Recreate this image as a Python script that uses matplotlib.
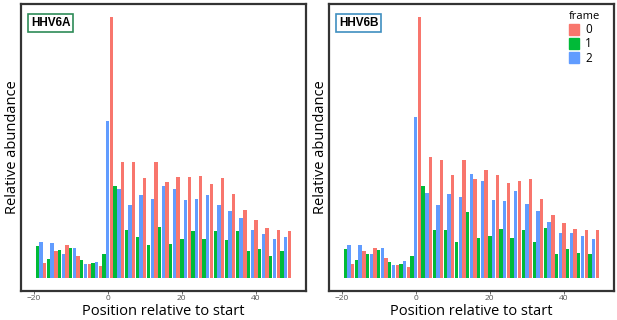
import numpy as np
import matplotlib
matplotlib.use('Agg')
import matplotlib.pyplot as plt
from matplotlib.patches import Patch

# positions relative to start codon
positions = np.arange(-19, 50)

# relative abundance per position, HHV6A
hhv6a = [0.121, 0.138, 0.057, 0.074, 0.135, 0.102, 0.107, 0.093, 0.125, 0.114,
         0.114, 0.083, 0.069, 0.055, 0.054, 0.057, 0.063, 0.045, 0.093,
         0.602, 1.000, 0.351, 0.340, 0.443, 0.185, 0.278, 0.446, 0.158, 0.317,
         0.382, 0.126, 0.303, 0.444, 0.195, 0.351, 0.367, 0.129, 0.342, 0.386,
         0.151, 0.300, 0.388, 0.179, 0.304, 0.390, 0.149, 0.319, 0.360, 0.181,
         0.281, 0.384, 0.144, 0.258, 0.322, 0.179, 0.229, 0.262, 0.103, 0.183,
         0.221, 0.112, 0.170, 0.190, 0.086, 0.148, 0.185, 0.103, 0.158, 0.179]

# relative abundance per position, HHV6B
hhv6b = [0.112, 0.125, 0.055, 0.068, 0.125, 0.102, 0.093, 0.091, 0.116, 0.109,
         0.115, 0.077, 0.063, 0.049, 0.049, 0.052, 0.066, 0.041, 0.083,
         0.617, 1.000, 0.354, 0.324, 0.462, 0.184, 0.278, 0.452, 0.184, 0.321,
         0.396, 0.138, 0.309, 0.453, 0.252, 0.400, 0.379, 0.153, 0.373, 0.415,
         0.160, 0.298, 0.395, 0.189, 0.294, 0.363, 0.152, 0.332, 0.372, 0.185,
         0.282, 0.381, 0.137, 0.258, 0.304, 0.193, 0.213, 0.241, 0.091, 0.172,
         0.212, 0.112, 0.172, 0.186, 0.097, 0.162, 0.185, 0.091, 0.148, 0.184]

frame_labels = ['0', '1', '2']
frame_colors = ['#F8766D', '#00BA38', '#619CFF']
panels = [('HHV6A', hhv6a, '#2E8B57'), ('HHV6B', hhv6b, '#3F8FC0')]

frames = (positions - 1) % 3

plt.rcParams['font.family'] = ['Open Sans', 'DejaVu Sans']

fig = plt.figure(figsize=(6.17, 3.2), dpi=100)
W, H = 617.0, 320.0
lefts = [21, 329]

for i, (name, vals, edge) in enumerate(panels):
    ax = fig.add_axes([lefts[i] / W, (H - 291) / H, 285 / W, 287 / H])
    vals = np.array(vals)
    cols = [frame_colors[f] for f in frames]
    ax.bar(positions, vals, width=0.9, color=cols, linewidth=0)
    ax.set_xlim(-23.4, 53.5)
    ax.set_ylim(-0.05, 1.05)
    ax.set_yticks([])
    ax.set_xticks([-20, 0, 20, 40])
    ax.tick_params(axis='x', labelsize=6, colors='#555555', length=2, width=0.6, pad=1)
    for s in ax.spines.values():
        s.set_linewidth(1.6)
        s.set_color('#333333')
    ax.set_xlabel('Position relative to start', fontsize=10.5, labelpad=1)
    ax.set_ylabel('Relative abundance', fontsize=10.5, labelpad=1)
    ax.text(0.035, 0.955, name, transform=ax.transAxes, fontsize=8.5,
            fontweight='bold', family=['Liberation Sans', 'DejaVu Sans'],
            va='top', ha='left',
            bbox=dict(boxstyle='square,pad=0.25', fc='white', ec=edge, lw=1.2))
    if i == 1:
        handles = [Patch(color=c, label=l) for c, l in zip(frame_colors, frame_labels)]
        leg = ax.legend(handles=handles, title='frame', loc='upper right',
                        frameon=False, fontsize=8.5, title_fontsize=8,
                        handlelength=0.9, handleheight=1.1, handletextpad=0.5,
                        labelspacing=0.1, borderaxespad=0.2,
                        bbox_to_anchor=(0.975, 1.0))
        leg._legend_box.align = 'left'

fig.savefig('out.png', dpi=100)
